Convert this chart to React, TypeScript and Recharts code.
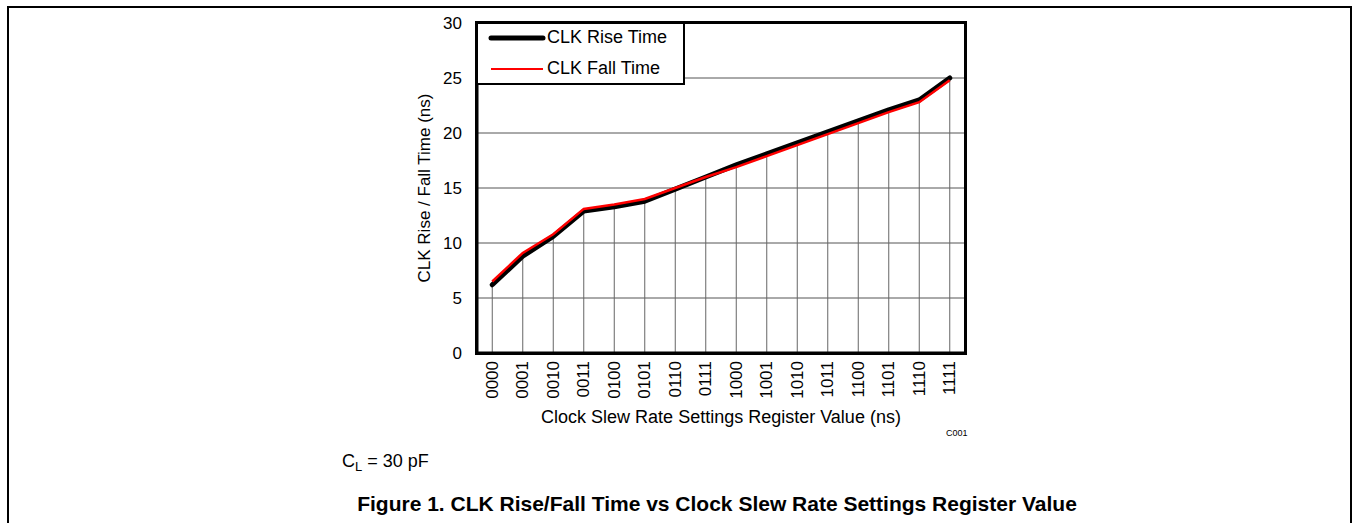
import React from 'react';
import { LineChart, Line, XAxis, YAxis, CartesianGrid, ReferenceLine, Legend, Label } from 'recharts';

const categories = ['0000', '0001', '0010', '0011', '0100', '0101', '0110', '0111', '1000', '1001', '1010', '1011', '1100', '1101', '1110', '1111'];
const riseTime = [6.2, 8.8, 10.6, 12.9, 13.3, 13.8, 14.9, 16.0, 17.1, 18.1, 19.1, 20.1, 21.1, 22.1, 23.0, 25.0];
const fallTime = [6.5, 9.1, 10.8, 13.1, 13.5, 14.0, 15.0, 16.0, 16.9, 17.9, 18.9, 19.9, 20.9, 21.9, 22.8, 24.8];
const yTicks = [0, 5, 10, 15, 20, 25, 30];

const data = categories.map((c, i) => ({ reg: c, rise: riseTime[i], fall: fallTime[i] }));

const FONT = "Arial, 'Liberation Sans', sans-serif";

const XTick = (props: any) => {
  const { x, y, payload } = props;
  return (
    <text
      x={x}
      y={y}
      transform={`rotate(-90 ${x} ${y})`}
      textAnchor="end"
      dominantBaseline="central"
      fontSize={17}
      fontFamily={FONT}
      fill="#000"
    >
      {payload.value}
    </text>
  );
};

const LegendBox = () => (
  <div
    style={{
      width: 209,
      height: 63,
      boxSizing: 'border-box',
      border: '2px solid #000',
      background: '#fff',
      fontFamily: FONT,
      fontSize: 18,
      color: '#000',
      position: 'relative',
    }}
  >
    <svg width={60} height={60} style={{ position: 'absolute', left: 8, top: 0 }}>
      <line x1={5} x2={57} y1={14} y2={14} stroke="#000" strokeWidth={5} strokeLinecap="round" />
      <line x1={5} x2={57} y1={45} y2={45} stroke="#ff0000" strokeWidth={2} />
    </svg>
    <div style={{ position: 'absolute', left: 69, top: 3, whiteSpace: 'nowrap' }}>CLK Rise Time</div>
    <div style={{ position: 'absolute', left: 69, top: 34, whiteSpace: 'nowrap' }}>CLK Fall Time</div>
  </div>
);

export default function App() {
  return (
    <div style={{ position: 'absolute', left: 0, top: 0, width: 1353, height: 523, background: '#fff', fontFamily: FONT }}>
      {/* outer frame */}
      <div style={{ position: 'absolute', left: 7, top: 6, width: 1345, height: 2, background: '#000' }} />
      <div style={{ position: 'absolute', left: 7, top: 6, width: 2, height: 517, background: '#000' }} />
      <div style={{ position: 'absolute', left: 1350, top: 6, width: 2, height: 517, background: '#000' }} />

      <div style={{ position: 'absolute', left: 0, top: 0 }}>
        <LineChart width={1353} height={523} data={data} margin={{ top: 23, right: 388, bottom: 110, left: 437 }}>
          <CartesianGrid vertical={false} stroke="#555" strokeWidth={1} />
          {categories.map((c, i) => (
            <ReferenceLine
              key={c}
              segment={[{ x: c, y: 0 }, { x: c, y: riseTime[i] }]}
              stroke="#666"
              strokeWidth={1}
            />
          ))}
          <XAxis
            dataKey="reg"
            scale="band"
            height={60}
            interval={0}
            tick={<XTick />}
            tickLine={false}
            tickSize={0}
            tickMargin={8}
            axisLine={{ stroke: '#000', strokeWidth: 3 }}
          >
            <Label
              value="Clock Slew Rate Settings Register Value (ns)"
              position="center"
              dy={34}
              style={{ fontSize: 18, fontFamily: FONT, fill: '#000' }}
            />
          </XAxis>
          <YAxis
            width={40}
            domain={[0, 30]}
            ticks={yTicks}
            interval={0}
            tickLine={false}
            tickSize={0}
            tickMargin={15}
            tick={{ fontSize: 17, fontFamily: FONT, fill: '#000' }}
            axisLine={{ stroke: '#000', strokeWidth: 3 }}
          >
            <Label
              value="CLK Rise / Fall Time (ns)"
              angle={-90}
              position="center"
              dx={-33}
              style={{ fontSize: 17, fontFamily: FONT, fill: '#000', textAnchor: 'middle' }}
            />
          </YAxis>
          <Line
            dataKey="rise"
            name="CLK Rise Time"
            stroke="#000"
            strokeWidth={5}
            strokeLinecap="round"
            strokeLinejoin="round"
            dot={false}
            activeDot={false}
            isAnimationActive={false}
          />
          <Line
            dataKey="fall"
            name="CLK Fall Time"
            stroke="#ff0000"
            strokeWidth={2.5}
            dot={false}
            activeDot={false}
            isAnimationActive={false}
          />
          <Legend
            layout="vertical"
            align="center"
            verticalAlign="middle"
            content={<LegendBox />}
            wrapperStyle={{ position: 'absolute', left: 476, top: 22, width: 209, height: 63 }}
          />
        </LineChart>
      </div>

      {/* plot frame */}
      <div
        style={{
          position: 'absolute',
          left: 475,
          top: 21,
          width: 492,
          height: 334,
          border: '3px solid #000',
          boxSizing: 'border-box',
          pointerEvents: 'none',
        }}
      />

      <div style={{ position: 'absolute', left: 946, top: 428, fontSize: 9, color: '#000' }}>C001</div>
      <div style={{ position: 'absolute', left: 342, top: 451, fontSize: 18, color: '#000', whiteSpace: 'nowrap' }}>
        C<sub style={{ fontSize: 13, verticalAlign: '-4px' }}>L</sub> = 30 pF
      </div>
      <div
        style={{
          position: 'absolute',
          left: 0,
          width: 1434,
          top: 492,
          textAlign: 'center',
          fontSize: 21,
          fontWeight: 'bold',
          color: '#000',
          whiteSpace: 'nowrap',
        }}
      >
        Figure 1. CLK Rise/Fall Time vs Clock Slew Rate Settings Register Value
      </div>
    </div>
  );
}
